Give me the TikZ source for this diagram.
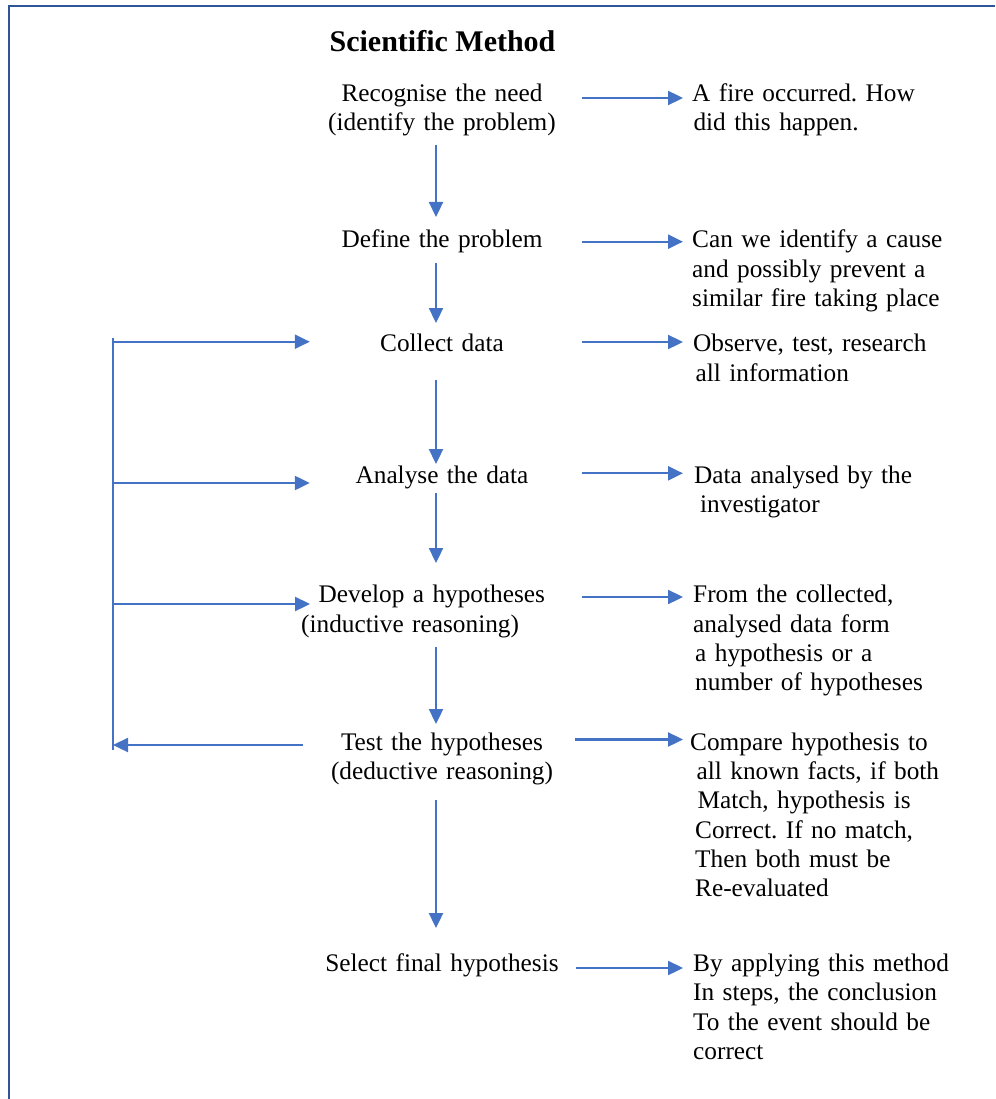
\documentclass[tikz,border=0pt]{standalone}
\usepackage{fontspec}
\setmainfont{Liberation Serif}
\usetikzlibrary{arrows.meta}
\definecolor{arrowblue}{HTML}{4472C4}
\definecolor{framebl}{HTML}{2F5597}
\setlength{\parindent}{0pt}
\frenchspacing
\begin{document}
\begin{tikzpicture}[x=1pt,y=-1pt,
  body/.style={font={\fontsize{25.3}{29.3}\selectfont}, inner sep=0pt,
    execute at begin node=\strut, execute at end node=\strut},
  stepnode/.style={body, text width=280pt, align=center, anchor=north},
  notenode/.style={body, text width=300pt, align=left, anchor=north west},
  titlenode/.style={font={\fontsize{30}{36}\selectfont\bfseries}, inner sep=0pt, anchor=base},
  arr/.style={draw=arrowblue, line width=2.3pt, -{Triangle[length=15pt,width=14pt]}},
  loopline/.style={draw=arrowblue, line width=1.8pt},
  frameline/.style={draw=framebl, line width=2.2pt, line join=miter}]
\useasboundingbox (0,0) rectangle (995,1099);
% frame
\draw[frameline] (9.3,1099) -- (9.3,6.3) -- (995,6.3);
% title
\node[titlenode] (ttl) at (442.5,52) {Scientific Method};
% steps
\node[stepnode] (rec) at (442,80.5) {Recognise the need\\(identify the problem)};
\node[stepnode] (def) at (442,227) {Define the problem};
\node[stepnode] (col) at (442,331) {Collect data};
\node[stepnode] (ana) at (442,462.5) {Analyse the data};
\node[body, text width=280pt, align=left, anchor=north west] (dev) at (301,582)
  {\hspace*{17.5pt}Develop a hypotheses\\(inductive reasoning)};
\node[stepnode] (tst) at (442,729.5) {Test the hypotheses\\(deductive reasoning)};
\node[stepnode] (sel) at (442,950.8) {Select final hypothesis};
% notes
\node[notenode] (fire) at (692,80.5) {A fire occurred. How\\\hspace*{1.3pt}did this happen.};
\node[notenode] (can) at (692,227) {Can we identify a cause\\and possibly prevent a\\similar fire taking place};
\node[notenode] (obs) at (693,331) {Observe, test, research\\\hspace*{2.5pt}all information};
\node[notenode] (dat) at (694,462.5) {Data analysed by the\\\hspace*{6pt}investigator};
\node[notenode] (frm) at (693,582) {From the collected,\\analysed data form\\\hspace*{2pt}a hypothesis or a\\\hspace*{2pt}number of hypotheses};
\node[notenode] (cmp) at (690,729.5) {Compare hypothesis to\\\hspace*{6.5pt}all known facts, if both\\\hspace*{7.5pt}Match, hypothesis is\\\hspace*{5pt}Correct. If no match,\\\hspace*{5pt}Then both must be\\\hspace*{5pt}Re-evaluated};
\node[notenode] (by) at (693,950.8) {By applying this method\\In steps, the conclusion\\To the event should be\\correct};
% vertical arrows
\coordinate (vx) at (436,0);
\draw[arr, shorten <=5.2pt, shorten >=10pt] (rec.south -| vx) -- (def.north -| vx);
\draw[arr, shorten <=6.7pt, shorten >=8pt] (def.south -| vx) -- (col.north -| vx);
\draw[arr, shorten <=19.7pt, shorten >=-1.5pt] (col.south -| vx) -- (ana.north -| vx);
\draw[arr, shorten <=1.2pt, shorten >=19pt] (ana.south -| vx) -- (dev.north -| vx);
\draw[arr, shorten <=6.4pt, shorten >=5.5pt] (dev.south -| vx) -- (tst.north -| vx);
\draw[arr, shorten <=11.9pt, shorten >=22.8pt] (tst.south -| vx) -- (sel.north -| vx);
% horizontal arrows to notes
\draw[arr] ([yshift=-17.5pt]rec.north east) -- ([xshift=-9pt,yshift=-17.5pt]fire.north west);
\draw[arr] ([yshift=-14.7pt]def.north east) -- ([xshift=-9pt,yshift=-14.7pt]can.north west);
\draw[arr] ([yshift=-11pt]col.north east) -- ([xshift=-10pt,yshift=-11pt]obs.north west);
\draw[arr] ([yshift=-10.8pt]ana.north east) -- ([xshift=-11pt,yshift=-10.8pt]dat.north west);
\draw[arr] ([xshift=1pt,yshift=-15pt]dev.north east) -- ([xshift=-10pt,yshift=-15pt]frm.north west);
\draw[arr] ([xshift=-7pt,yshift=-10pt]tst.north east) -- ([xshift=-7pt,yshift=-10pt]cmp.north west);
\draw[arr] ([xshift=-6pt,yshift=-17.2pt]sel.north east) -- ([xshift=-10pt,yshift=-17.2pt]by.north west);
% feedback loop
\coordinate (lpTop) at (113,338);
\coordinate (lpBot) at (113,750);
\draw[loopline] (lpTop) -- (lpBot);
\path ([xshift=8pt,yshift=-10.7pt]col.north west) coordinate (in1);
\path ([xshift=8pt,yshift=-20.5pt]ana.north west) coordinate (in2);
\path ([xshift=9pt,yshift=-22pt]dev.north west) coordinate (in3);
\path ([xshift=1pt,yshift=-15.5pt]tst.north west) coordinate (out4);
\draw[arr] (lpTop |- in1) -- (in1);
\draw[arr] (lpTop |- in2) -- (in2);
\draw[arr] (lpTop |- in3) -- (in3);
\draw[arr] (out4) -- (lpBot |- out4);
\end{tikzpicture}
\end{document}
